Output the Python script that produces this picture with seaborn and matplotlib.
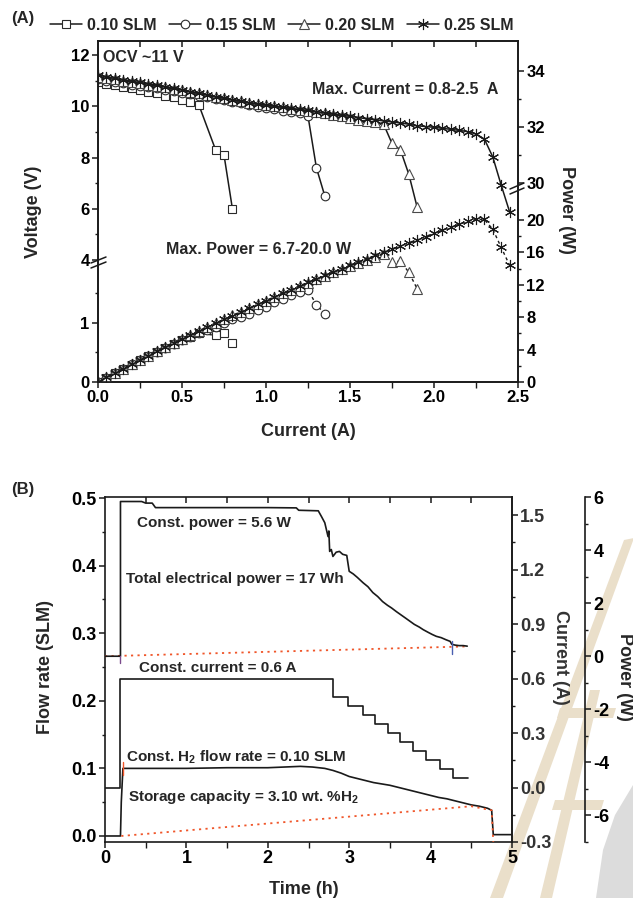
import numpy as np
import matplotlib
matplotlib.use("Agg")
import matplotlib.pyplot as plt
import seaborn as sns
from matplotlib.patches import Polygon
from matplotlib.ticker import FixedLocator, FuncFormatter

sns.set_theme(style="ticks")
plt.rcParams['font.family'] = ['Liberation Sans', 'DejaVu Sans']
plt.rcParams['font.weight'] = 'bold'
plt.rcParams['axes.labelweight'] = 'bold'
plt.rcParams['axes.unicode_minus'] = False
plt.rcParams['mathtext.fontset'] = 'custom'
plt.rcParams['mathtext.rm'] = 'Liberation Sans:bold'
plt.rcParams['mathtext.default'] = 'rm'

# ---------------- Panel A data ----------------
I_010 = [0.00, 0.05, 0.10, 0.15, 0.20, 0.25, 0.30, 0.35, 0.40, 0.45, 0.50, 0.55, 0.60, 0.70, 0.75, 0.80]
V_010 = [10.95, 10.88, 10.82, 10.76, 10.70, 10.63, 10.56, 10.50, 10.42, 10.35, 10.26, 10.16, 10.06, 8.30, 8.10, 6.00]
P_010 = [0.00, 0.54, 1.08, 1.61, 2.14, 2.66, 3.17, 3.68, 4.17, 4.66, 5.13, 5.59, 6.04, 5.75, 6.02, 4.80]

I_015 = [0.00, 0.05, 0.10, 0.15, 0.20, 0.25, 0.30, 0.35, 0.40, 0.45, 0.50, 0.55, 0.60, 0.65,
         0.70, 0.75, 0.80, 0.85, 0.90, 0.95, 1.00, 1.05, 1.10, 1.15, 1.20, 1.25, 1.30, 1.35]
V_015 = [11.05, 11.00, 10.95, 10.90, 10.85, 10.80, 10.75, 10.70, 10.65, 10.59, 10.53, 10.47, 10.41, 10.35,
         10.29, 10.23, 10.17, 10.11, 10.05, 9.99, 9.93, 9.88, 9.83, 9.78, 9.72, 9.62, 7.60, 6.50]
P_015 = [0.00, 0.55, 1.10, 1.63, 2.17, 2.70, 3.22, 3.72, 4.22, 4.70, 5.15, 5.58, 6.00, 6.40,
         6.80, 7.25, 7.75, 8.05, 8.45, 8.90, 9.30, 9.85, 10.30, 10.70, 11.10, 11.40, 9.50, 8.45]

I_020 = [0.00, 0.05, 0.10, 0.15, 0.20, 0.25, 0.30, 0.35, 0.40, 0.45, 0.50, 0.55, 0.60, 0.65,
         0.70, 0.75, 0.80, 0.85, 0.90, 0.95, 1.00, 1.05, 1.10, 1.15, 1.20, 1.25, 1.30, 1.35,
         1.40, 1.45, 1.50, 1.55, 1.60, 1.65, 1.70, 1.75, 1.80, 1.85, 1.90]
V_020 = [11.15, 11.10, 11.05, 11.00, 10.95, 10.90, 10.85, 10.80, 10.74, 10.68, 10.62, 10.56, 10.50, 10.44,
         10.38, 10.32, 10.26, 10.20, 10.14, 10.09, 10.04, 10.00, 9.96, 9.91, 9.86, 9.81, 9.77, 9.72,
         9.67, 9.62, 9.55, 9.45, 9.42, 9.38, 9.30, 8.55, 8.30, 7.35, 6.05]
P_020 = [0.00, 0.56, 1.11, 1.65, 2.19, 2.73, 3.26, 3.78, 4.30, 4.81, 5.31, 5.81, 6.30, 6.79,
         7.27, 7.74, 8.21, 8.67, 9.13, 9.59, 10.04, 10.50, 10.96, 11.40, 11.83, 12.26, 12.70, 13.12,
         13.54, 13.95, 14.33, 14.65, 15.07, 15.48, 15.81, 14.85, 14.90, 13.55, 11.50]

I_025 = [0.00, 0.05, 0.10, 0.15, 0.20, 0.25, 0.30, 0.35, 0.40, 0.45, 0.50, 0.55, 0.60, 0.65,
         0.70, 0.75, 0.80, 0.85, 0.90, 0.95, 1.00, 1.05, 1.10, 1.15, 1.20, 1.25, 1.30, 1.35,
         1.40, 1.45, 1.50, 1.55, 1.60, 1.65, 1.70, 1.75, 1.80, 1.85, 1.90, 1.95, 2.00, 2.05,
         2.10, 2.15, 2.20, 2.25, 2.30, 2.35, 2.40, 2.45]
V_025 = [11.22, 11.15, 11.09, 11.03, 10.98, 10.93, 10.88, 10.82, 10.76, 10.70, 10.64, 10.57, 10.50, 10.44,
         10.37, 10.31, 10.25, 10.19, 10.13, 10.08, 10.04, 10.00, 9.96, 9.92, 9.88, 9.84, 9.79, 9.74,
         9.70, 9.65, 9.61, 9.56, 9.51, 9.47, 9.43, 9.39, 9.35, 9.30, 9.24, 9.21, 9.18, 9.14,
         9.10, 9.06, 9.01, 8.92, 8.72, 8.02, 6.92, 5.88]
P_025 = [0.00, 0.56, 1.11, 1.65, 2.20, 2.73, 3.26, 3.79, 4.30, 4.82, 5.32, 5.81, 6.30, 6.79,
         7.26, 7.73, 8.20, 8.66, 9.12, 9.58, 10.04, 10.50, 10.96, 11.41, 11.86, 12.30, 12.73, 13.15,
         13.58, 14.00, 14.42, 14.82, 15.22, 15.63, 16.03, 16.43, 16.83, 17.21, 17.56, 17.96, 18.36, 18.74,
         19.11, 19.48, 19.82, 20.07, 20.06, 18.85, 16.61, 14.41]

SERIES_LABELS = ["0.10 SLM", "0.15 SLM", "0.20 SLM", "0.25 SLM"]
A_XTICKS = [0.0, 0.5, 1.0, 1.5, 2.0, 2.5]
A_VTICKS = [0, 1, 4, 6, 8, 10, 12]
A_PTICKS = [0, 4, 8, 12, 16, 20, 30, 32, 34]

# ---------------- Panel B data ----------------
T_POWER = [0.00, 0.19, 0.19, 0.45, 0.50, 0.58, 0.62, 1.00, 1.50, 2.00, 2.35, 2.38, 2.62, 2.66, 2.70,
           2.74, 2.75, 2.76, 2.78, 2.80, 2.84, 2.88, 2.92, 2.97, 3.00, 3.05, 3.10, 3.17, 3.23, 3.29,
           3.35, 3.41, 3.47, 3.52, 3.58, 3.64, 3.70, 3.75, 3.80, 3.86, 3.91, 3.97, 4.02, 4.07, 4.13,
           4.19, 4.24, 4.26, 4.30, 4.35, 4.40, 4.45]
POWER_W = [0.00, 0.00, 5.83, 5.83, 5.77, 5.77, 5.60, 5.60, 5.60, 5.60, 5.59, 5.50, 5.48, 5.26, 5.03,
           4.51, 4.72, 3.95, 4.02, 3.76, 3.92, 3.95, 3.84, 3.80, 3.20, 3.10, 2.97, 2.77, 2.62, 2.40,
           2.25, 2.06, 1.92, 1.82, 1.68, 1.55, 1.42, 1.31, 1.20, 1.10, 1.00, 0.90, 0.82, 0.75, 0.70,
           0.62, 0.56, 0.45, 0.42, 0.40, 0.40, 0.38]
T_POWER_BASE = [0.00, 4.45]
POWER_BASE = [0.00, 0.37]

T_CURRENT = [0.00, 0.19, 2.80, 2.99, 3.17, 3.32, 3.48, 3.62, 3.78, 3.94, 4.12, 4.27, 4.46]
CURRENT_A = [0.00, 0.60, 0.50, 0.45, 0.40, 0.35, 0.30, 0.25, 0.20, 0.15, 0.10, 0.05, 0.05]

T_FLOW = [0.00, 0.19, 0.20, 0.22, 0.30, 0.60, 1.00, 1.50, 2.00, 2.20, 2.40, 2.55, 2.70, 2.80, 2.90,
          3.00, 3.10, 3.20, 3.30, 3.40, 3.50, 3.60, 3.70, 3.80, 3.90, 4.00, 4.10, 4.20, 4.30, 4.40,
          4.50, 4.60, 4.70, 4.75, 4.77, 5.00]
FLOW_SLM = [0.000, 0.000, 0.050, 0.100, 0.100, 0.100, 0.100, 0.101, 0.101, 0.102, 0.103, 0.102, 0.100, 0.097, 0.093,
            0.088, 0.085, 0.082, 0.079, 0.077, 0.075, 0.072, 0.069, 0.066, 0.063, 0.060, 0.057, 0.055, 0.052, 0.049,
            0.046, 0.044, 0.041, 0.038, 0.002, 0.002]
T_FLOW_BASE = [0.20, 4.50, 4.75, 4.77]
FLOW_BASE = [0.000, 0.044, 0.038, -0.009]

B_XTICKS = [0, 1, 2, 3, 4, 5]
B_FTICKS = [0.0, 0.1, 0.2, 0.3, 0.4, 0.5]
B_CTICKS = [-0.3, 0.0, 0.3, 0.6, 0.9, 1.2, 1.5]
B_PTICKS = [-6, -4, -2, 0, 2, 4, 6]

# ---------------- figure ----------------
W, H = 633, 898
fig = plt.figure(figsize=(W / 100, H / 100), dpi=100)


def fx(px):
    return px / W


def fy(py):
    return 1 - py / H


INK = '#1a1a1a'

# watermark (background decoration)
def poly(pts, color, z=-5):
    p = Polygon([(fx(a), fy(b)) for a, b in pts], closed=True, transform=fig.transFigure,
                facecolor=color, edgecolor='none', zorder=z)
    fig.patches.append(p)

BEIGE = '#eadfca'
poly([(624, 540), (634, 538), (503, 898), (490, 898)], BEIGE)
poly([(590, 690), (600, 690), (552, 898), (540, 898)], BEIGE)
poly([(560, 708), (616, 708), (613, 718), (557, 718)], BEIGE)
poly([(555, 800), (604, 800), (601, 810), (552, 810)], BEIGE)
poly([(633, 785), (633, 898), (596, 898), (603, 850), (615, 815)], '#dcdcdc')

# ---------------- Panel A ----------------
axA = fig.add_axes([fx(98), fy(382), 420 / W, 341 / H])
axA2 = axA.twinx()
for a in (axA, axA2):
    a.patch.set_alpha(0)

V_K = [-50, 0, 2, 4, 60]
V_Y = [-2950, 0, 118, 122, 122 + 56 * 25.6]
P_K = [-50, 0, 24, 30, 80]
P_Y = [-405, 0, 194.4, 199, 199 + 50 * 28]


def v_fwd(v):
    return np.interp(v, V_K, V_Y)


def v_inv(y):
    return np.interp(y, V_Y, V_K)


def p_fwd(p):
    return np.interp(p, P_K, P_Y)


def p_inv(y):
    return np.interp(y, P_Y, P_K)


axA.set_yscale('function', functions=(v_fwd, v_inv))
axA2.set_yscale('function', functions=(p_fwd, p_inv))


def draw(ax, x, y, **kw):
    sns.lineplot(x=x, y=y, ax=ax, estimator=None, sort=False, legend=False, **kw)
    return ax.lines[-1]


styles = [
    dict(marker='s', markersize=5.8, markeredgecolor='#2a2a2a'),
    dict(marker='o', markersize=6.2, markeredgecolor='#2a2a2a'),
    dict(marker='^', markersize=6.8, markeredgecolor='#4a4a4a'),
    dict(marker=(6, 2, 0), markersize=8, markeredgecolor='#1a1a1a'),
]
volt = [(I_010, V_010), (I_015, V_015), (I_020, V_020), (I_025, V_025)]
powr = [(I_010, P_010), (I_015, P_015), (I_020, P_020), (I_025, P_025)]

handles = []
for (x, y), st in zip(powr, styles):
    draw(axA2, x, y, color=INK, lw=1.0, linestyle=(0, (2.2, 2.2)), markerfacecolor='white',
         markeredgewidth=0.8, **st)
for (x, y), st in zip(volt, styles):
    h = draw(axA, x, y, color=INK, lw=1.1, markerfacecolor='white', markeredgewidth=0.8, **st)
    handles.append(h)

axA.set_xlim(0, 2.5)
axA.set_ylim(0, 12.55)
axA2.set_ylim(0, 35.07)
axA.set_xlabel('')
axA.set_ylabel('')
axA2.set_ylabel('')

axA.xaxis.set_major_locator(FixedLocator(A_XTICKS))
axA.xaxis.set_minor_locator(FixedLocator([0.25, 0.75, 1.25, 1.75, 2.25]))
axA.xaxis.set_major_formatter(FuncFormatter(lambda v, _: f"{v:.1f}"))
axA.yaxis.set_major_locator(FixedLocator(A_VTICKS))
axA.yaxis.set_minor_locator(FixedLocator([0.5, 1.5, 5, 7, 9, 11]))
axA.yaxis.set_major_formatter(FuncFormatter(lambda v, _: f"{v:g}"))
axA2.yaxis.set_major_locator(FixedLocator(A_PTICKS))
axA2.yaxis.set_minor_locator(FixedLocator([2, 6, 10, 14, 18, 31, 33]))
axA2.yaxis.set_major_formatter(FuncFormatter(lambda v, _: f"{v:g}"))

for a in (axA, axA2):
    for s in a.spines.values():
        s.set_linewidth(1.2)
        s.set_color(INK)
    a.tick_params(which='major', length=4, width=1.1, color=INK, labelsize=12, labelcolor='black', pad=2)
    a.tick_params(which='minor', length=2.5, width=1.0, color=INK)
axA.tick_params(axis='x', which='both', direction='out', top=False, length=4)
axA.tick_params(axis='y', which='both', direction='out')
axA2.tick_params(axis='y', which='both', direction='out')

secA = axA.secondary_xaxis('top')
secA.set_xticks([0.25, 0.5, 0.75, 1.0, 1.25, 1.5, 1.75, 2.0, 2.25])
secA.tick_params(direction='in', length=4, width=1.1, color=INK, labeltop=False)
secA.spines['top'].set_visible(False)

# axis-break marks
def brk(ax, pts):
    for (x0, y0, x1, y1) in pts:
        ax.plot([(x0 - 98) / 420, (x1 - 98) / 420], [(382 - y0) / 341, (382 - y1) / 341],
                transform=ax.transAxes, color=INK, lw=1.1, clip_on=False, zorder=10)

brk(axA, [(91, 263, 106, 257), (91, 268, 106, 262)])
brk(axA, [(510, 189, 524, 183), (510, 194, 524, 188)])

fig.legend(handles, SERIES_LABELS, loc='center left', bbox_to_anchor=(fx(50), fy(25)), ncol=4,
           frameon=False, prop=dict(size=11.5, weight='bold'), handlelength=2.0, handletextpad=0.3,
           columnspacing=0.8, borderaxespad=0, borderpad=0)

fig.text(fx(23), fy(18), '(A)', ha='center', va='center', fontsize=12, fontweight='bold')
fig.text(fx(103), fy(58), 'OCV ~11 V', ha='left', va='center', fontsize=11.5, fontweight='bold')
fig.text(fx(405), fy(89), 'Max. Current = 0.8-2.5  A', ha='center', va='center', fontsize=11.5, fontweight='bold')
fig.text(fx(259), fy(250), 'Max. Power = 6.7-20.0 W', ha='center', va='center', fontsize=11.5, fontweight='bold')
fig.text(fx(33), fy(212), 'Voltage (V)', ha='center', va='center', rotation=90, fontsize=13, fontweight='bold')
fig.text(fx(566), fy(210), 'Power (W)', ha='center', va='center', rotation=270, fontsize=13, fontweight='bold')
fig.text(fx(308), fy(432), 'Current (A)', ha='center', va='center', fontsize=13, fontweight='bold')

# ---------------- Panel B ----------------
axB = fig.add_axes([fx(105), fy(842), 407 / W, 345 / H])
axC = axB.twinx()
axP = axB.twinx()
for a in (axB, axC, axP):
    a.patch.set_alpha(0)
axP.spines['right'].set_position(('axes', 1 + 73 / 407))
for a in (axC, axP):
    for k in ('left', 'top', 'bottom'):
        a.spines[k].set_visible(False)

RED = '#f0562a'
draw(axP, T_POWER_BASE, POWER_BASE, color=RED, lw=1.3, linestyle=(0, (1.2, 2.4)))
draw(axP, T_POWER, POWER_W, color=INK, lw=1.2)
draw(axP, [0.19, 0.19], [0.0, -0.25], color='#7b4a8c', lw=1.0)
draw(axP, [4.26, 4.26], [0.56, 0.10], color='#4a5fb0', lw=1.0)

draw(axC, T_CURRENT, CURRENT_A, color=INK, lw=1.2, drawstyle='steps-post')

draw(axB, T_FLOW_BASE, FLOW_BASE, color=RED, lw=1.3, linestyle=(0, (1.2, 2.4)), zorder=3)
draw(axB, T_FLOW, FLOW_SLM, color=INK, lw=1.2, zorder=2)
draw(axB, [0.22, 0.22], [0.09, 0.11], color=RED, lw=1.0)

axB.set_xlim(0, 5)
axB.set_ylim(-0.0089, 0.5015)
axC.set_ylim(-0.3, 1.6)
axP.set_ylim(-7, 6)
for a in (axB, axC, axP):
    a.set_xlabel('')
    a.set_ylabel('')

axB.xaxis.set_major_locator(FixedLocator(B_XTICKS))
axB.xaxis.set_minor_locator(FixedLocator([0.5, 1.5, 2.5, 3.5, 4.5]))
axB.xaxis.set_major_formatter(FuncFormatter(lambda v, _: f"{v:g}"))
axB.yaxis.set_major_locator(FixedLocator(B_FTICKS))
axB.yaxis.set_minor_locator(FixedLocator([0.05, 0.15, 0.25, 0.35, 0.45]))
axB.yaxis.set_major_formatter(FuncFormatter(lambda v, _: f"{v:.1f}"))
axC.yaxis.set_major_locator(FixedLocator(B_CTICKS))
axC.yaxis.set_minor_locator(FixedLocator([-0.15, 0.15, 0.45, 0.75, 1.05, 1.35]))
axC.yaxis.set_major_formatter(FuncFormatter(lambda v, _: f"{v:.1f}"))
axP.yaxis.set_major_locator(FixedLocator(B_PTICKS))
axP.yaxis.set_minor_locator(FixedLocator([-7, -5, -3, -1, 1, 3, 5]))
axP.yaxis.set_major_formatter(FuncFormatter(lambda v, _: f"{v:g}"))

for a in (axB, axC, axP):
    for s in a.spines.values():
        s.set_linewidth(1.2)
        s.set_color(INK)
    a.tick_params(which='major', length=4, width=1.1, color=INK, labelsize=13, labelcolor='black', pad=2)
    a.tick_params(which='minor', length=2.5, width=1.0, color=INK)
axB.tick_params(axis='x', which='both', direction='out', top=False, length=4)
axB.tick_params(axis='y', which='both', direction='out')
axC.tick_params(axis='y', which='both', direction='out', labelcolor='#333333')
axP.tick_params(axis='y', which='both', direction='out')

secB = axB.secondary_xaxis('top')
secB.set_xticks([0.5, 1.0, 1.5, 2.0, 2.5, 3.0, 3.5, 4.0, 4.5])
secB.tick_params(direction='in', length=4, width=1.1, color=INK, labeltop=False)
secB.spines['top'].set_visible(False)

fig.text(fx(23), fy(490), '(B)', ha='center', va='center', fontsize=12, fontweight='bold')
fig.text(fx(214), fy(523), 'Const. power = 5.6 W', ha='center', va='center', fontsize=11, fontweight='bold')
fig.text(fx(235), fy(579), 'Total electrical power = 17 Wh', ha='center', va='center', fontsize=11, fontweight='bold')
fig.text(fx(218), fy(668), 'Const. current = 0.6 A', ha='center', va='center', fontsize=11, fontweight='bold')
fig.text(fx(236), fy(757), 'Const. H$_2$ flow rate = 0.10 SLM', ha='center', va='center', fontsize=11, fontweight='bold')
fig.text(fx(243), fy(797), 'Storage capacity = 3.10 wt. %H$_2$', ha='center', va='center', fontsize=11, fontweight='bold')
fig.text(fx(45), fy(667), 'Flow rate (SLM)', ha='center', va='center', rotation=90, fontsize=13, fontweight='bold')
fig.text(fx(560), fy(657), 'Current (A)', ha='center', va='center', rotation=270, fontsize=13,
         fontweight='bold', color='#333333')
fig.text(fx(624), fy(677), 'Power (W)', ha='center', va='center', rotation=270, fontsize=13, fontweight='bold')
fig.text(fx(304), fy(889), 'Time (h)', ha='center', va='center', fontsize=13, fontweight='bold')

fig.savefig('out.png', dpi=100)
